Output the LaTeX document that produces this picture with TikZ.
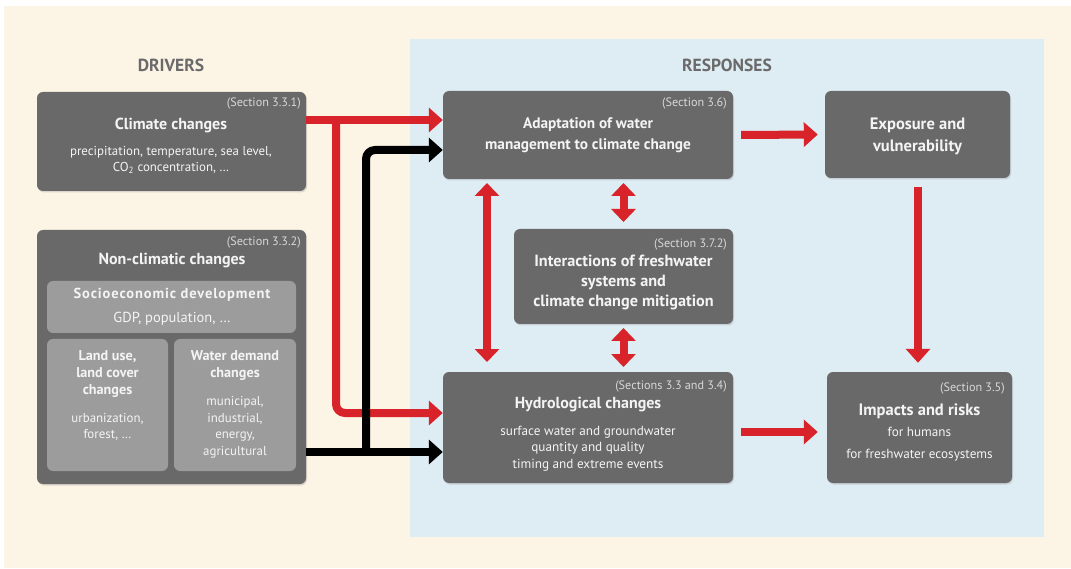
\documentclass[tikz,border=0pt]{standalone}
\usepackage{fontspec}
\setmainfont{PT Sans}
\usetikzlibrary{arrows.meta,calc,shadows}
\definecolor{beige}{HTML}{FCF4E4}
\definecolor{panelblue}{HTML}{DEECF3}
\definecolor{boxgrey}{HTML}{69696A}
\definecolor{innergrey}{HTML}{9C9C9D}
\definecolor{arrred}{HTML}{D9232A}
\definecolor{headgrey}{HTML}{6A6A6A}
\definecolor{txtwhite}{HTML}{F4F4F4}
\definecolor{sectxt}{HTML}{D8D8D8}
\begin{document}
\begin{tikzpicture}[x=1pt,y=-1pt,
  box/.style={fill=boxgrey, rounded corners=6pt, inner sep=0pt, draw=none,
    drop shadow={opacity=0.25, shadow xshift=1pt, shadow yshift=-1.5pt}},
  inbox/.style={fill=innergrey, rounded corners=6pt, inner sep=0pt, draw=none},
  sec/.style={font=\fontsize{12.2}{14}\selectfont, text=sectxt, anchor=east, inner sep=0pt},
  ttl/.style={font=\bfseries\fontsize{16}{21}\selectfont, text=txtwhite, align=center, inner sep=0pt},
  ittl/.style={font=\bfseries\fontsize{14.2}{17}\selectfont, text=txtwhite, align=center, inner sep=0pt},
  sub/.style={font=\fontsize{12.9}{16.5}\selectfont, text=txtwhite, align=center, inner sep=0pt},
  head/.style={font=\bfseries\fontsize{17.5}{19}\selectfont, text=headgrey, inner sep=0pt},
  redarr/.style={draw=arrred, line width=8pt, -{Triangle[length=14pt,width=24pt]}},
  reddbl/.style={draw=arrred, line width=8pt, {Triangle[length=13pt,width=24pt]}-{Triangle[length=13pt,width=24pt]}},
  blkarr/.style={draw=black, line width=8pt, -{Triangle[length=14pt,width=24pt]}}
]
\useasboundingbox (0,0) rectangle (1071,569);
\fill[white] (0,0) rectangle (1071,569);
\fill[beige] (4,6) rectangle (1071,568);
\fill[panelblue] (410,39) rectangle (1044,537);

% headers
\node[head] (hdrv) at (171,65) {DRIVERS};
\node[head] (hrsp) at (727,65) {RESPONSES};

% boxes
\node[box, minimum width=269pt, minimum height=99pt] (clim) at (171.5,141.5) {};
\node[box, minimum width=269pt, minimum height=254pt] (noncl) at (171.5,357) {};
\node[inbox, minimum width=249pt, minimum height=52pt] (socio) at (171.5,307) {};
\node[inbox, minimum width=121pt, minimum height=132pt] (land) at (107.5,405) {};
\node[inbox, minimum width=122pt, minimum height=132pt] (water) at (235,405) {};
\node[box, minimum width=290pt, minimum height=88pt] (adapt) at (588,135) {};
\node[box, minimum width=219pt, minimum height=95pt] (inter) at (623.5,276.5) {};
\node[box, minimum width=290pt, minimum height=111pt] (hydro) at (588,427.5) {};
\node[box, minimum width=185pt, minimum height=87pt] (expo) at (917.5,134.5) {};
\node[box, minimum width=185pt, minimum height=111pt] (impa) at (919.5,427.5) {};

% texts: climate
\node[sec] (climsec) at (301,104) {(Section 3.3.1)};
\node[ttl] (climttl) at (171,125) {Climate changes};
\node[sub] (climsub) at (171,160) {precipitation, temperature, sea level,\\CO\textsubscript{2} concentration, \dots};
% non-climatic
\node[sec] (nonsec) at (301,243) {(Section 3.3.2)};
\node[ttl] (nonttl) at (172,261) {Non-climatic changes};
\node[ittl, font=\bfseries\fontsize{14.5}{17}\selectfont\addfontfeature{LetterSpace=6}] (sociottl) at (172,295) {Socioeconomic development};
\node[sub, font=\fontsize{14.5}{17}\selectfont] (sociosub) at (172,319) {GDP, population, \dots};
\node[ittl] (landttl) at (107.5,374) {Land use,\\land cover\\changes};
\node[sub] (landsub) at (107.5,427) {urbanization,\\forest, \dots};
\node[ittl] (waterttl) at (235,365.5) {Water demand\\changes};
\node[sub] (watersub) at (235,427.5) {municipal,\\industrial,\\energy,\\agricultural};
% adaptation
\node[sec] (adsec) at (727,104) {(Section 3.6)};
\node[ttl, font=\bfseries\fontsize{15.3}{21.5}\selectfont] (adttl) at (588,135) {Adaptation of water\\management to climate change};
% interactions
\node[sec] (intsec) at (727,244) {(Section 3.7.2)};
\node[ttl, font=\bfseries\fontsize{16.2}{20}\selectfont] (intttl) at (623.5,282) {Interactions of freshwater\\systems and\\climate change mitigation};
% hydrological
\node[sec] (hysec) at (727,386) {(Sections 3.3 and 3.4)};
\node[ttl] (hyttl) at (588,405) {Hydrological changes};
\node[sub, font=\fontsize{13.2}{16.5}\selectfont] (hysub) at (588,448.5) {surface water and groundwater\\quantity and quality\\timing and extreme events};
% exposure
\node[ttl, font=\bfseries\fontsize{16.5}{22}\selectfont] (exttl) at (917.5,136) {Exposure and\\vulnerability};
% impacts
\node[sec] (imsec) at (1005,388) {(Section 3.5)};
\node[ttl, font=\bfseries\fontsize{16.5}{21}\selectfont] (imttl) at (919.5,411) {Impacts and risks};
\node[sub, font=\fontsize{13.2}{22}\selectfont] (imsub) at (919.5,444) {for humans\\for freshwater ecosystems};

% connectors
\coordinate (rstart) at (clim.east |- 0,120);
\coordinate (rbranch) at (336,120);
\coordinate (bstart) at (noncl.east |- 0,452);
\coordinate (bbranch) at (366,452);
\draw[redarr] (rstart) -- (adapt.west |- rstart);
\draw[redarr, rounded corners=9pt] (rbranch) |- (hydro.west |- 0,413);
\draw[blkarr] (bstart) -- (hydro.west |- bstart);
\draw[blkarr, rounded corners=9pt] (bbranch) |- (adapt.west |- 0,150);

\draw[reddbl] (487,183) -- (487,362);
\draw[reddbl] (623.5,183) -- (623.5,222);
\draw[reddbl] (623.5,328) -- (623.5,367);

\draw[redarr] ($(adapt.east)+(8,0)$) -- ($(expo.west)+(-7,0)$);
\draw[redarr] ($(expo.south)+(0.5,9)$) -- ($(impa.north -| expo.south)+(0.5,-9)$);
\draw[redarr] ($(hydro.east |- 0,432)+(8,0)$) -- ($(impa.west |- 0,432)+(-9,0)$);
\end{tikzpicture}
\end{document}
